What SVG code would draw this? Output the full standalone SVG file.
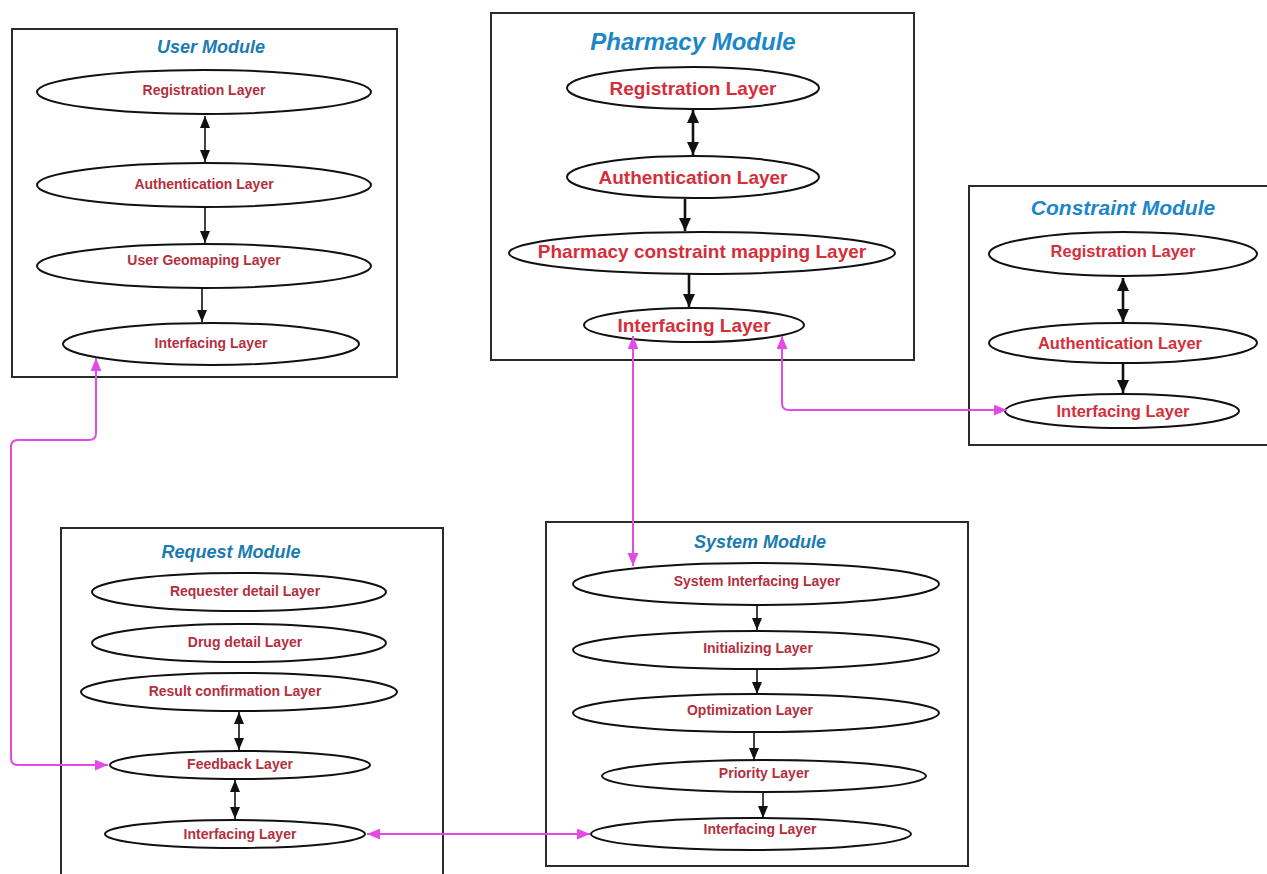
<svg xmlns="http://www.w3.org/2000/svg" width="1267" height="874" viewBox="0 0 1267 874">
<defs>
<style>
.box{fill:#fff;stroke:#2b2b2b;stroke-width:2}
.el{fill:#fff;stroke:#111;stroke-width:2}
.title{font-family:"Liberation Sans",Arial,sans-serif;font-weight:bold;font-style:italic;fill:#1b7bb0;text-anchor:middle}
.lbl{font-family:"Liberation Sans",Arial,sans-serif;font-weight:bold;fill:#b3303e;text-anchor:middle;font-size:14px}
.lblL{font-family:"Liberation Sans",Arial,sans-serif;font-weight:bold;fill:#d42f3b;text-anchor:middle}
.blk{stroke:#111;stroke-width:1.6;fill:none}
.blk2{stroke:#111;stroke-width:2.6;fill:none}
.mag{stroke:#e24be4;stroke-width:2;fill:none}
</style>
<marker id="ah" markerUnits="userSpaceOnUse" viewBox="0 0 12 10" refX="12" refY="5" markerWidth="12" markerHeight="10" orient="auto-start-reverse"><path d="M0,0 L12,5 L0,10 Z" fill="#111"/></marker>
<marker id="ah2" markerUnits="userSpaceOnUse" viewBox="0 0 13 12" refX="13" refY="6" markerWidth="13" markerHeight="12" orient="auto-start-reverse"><path d="M0,0 L13,6 L0,12 Z" fill="#111"/></marker>
<marker id="ahm" markerUnits="userSpaceOnUse" viewBox="0 0 12 10" refX="12" refY="5" markerWidth="13" markerHeight="11" orient="auto-start-reverse"><path d="M0,0 L12,5 L0,10 Z" fill="#e24be4"/></marker>
</defs>
<rect width="1267" height="874" fill="#fff"/>

<g id="user-module">
<rect class="box" x="12" y="29" width="385" height="348"/>
<text class="title" x="211" y="53" font-size="18">User Module</text>
<ellipse class="el" cx="204" cy="92" rx="167" ry="22"/>
<text class="lbl" x="204" y="95">Registration Layer</text>
<ellipse class="el" cx="204" cy="185" rx="167" ry="22"/>
<text class="lbl" x="204" y="189">Authentication Layer</text>
<ellipse class="el" cx="204" cy="266" rx="167" ry="22"/>
<text class="lbl" x="204" y="265">User Geomaping Layer</text>
<ellipse class="el" cx="211" cy="344" rx="148" ry="21"/>
<text class="lbl" x="211" y="348">Interfacing Layer</text>
</g>

<g id="pharmacy-module">
<rect class="box" x="491" y="13" width="423" height="347"/>
<text class="title" x="693" y="50" font-size="24" style="fill:#1d86c8">Pharmacy Module</text>
<ellipse class="el" cx="693" cy="88" rx="126" ry="21"/>
<text class="lblL" x="693" y="95" font-size="19">Registration Layer</text>
<ellipse class="el" cx="693" cy="177" rx="126" ry="21"/>
<text class="lblL" x="693" y="184" font-size="19">Authentication Layer</text>
<ellipse class="el" cx="702" cy="253" rx="193" ry="21"/>
<text class="lblL" x="702" y="258" font-size="19">Pharmacy constraint mapping Layer</text>
<ellipse class="el" cx="694" cy="325" rx="110" ry="17"/>
<text class="lblL" x="694" y="332" font-size="19">Interfacing Layer</text>
</g>

<g id="constraint-module">
<rect class="box" x="969" y="186" width="300" height="259"/>
<text class="title" x="1123" y="215" font-size="21" style="fill:#1d86c8">Constraint Module</text>
<ellipse class="el" cx="1123" cy="254" rx="134" ry="22"/>
<text class="lblL" x="1123" y="257" font-size="16.5">Registration Layer</text>
<ellipse class="el" cx="1123" cy="343" rx="134" ry="20"/>
<text class="lblL" x="1120" y="349" font-size="16.5">Authentication Layer</text>
<ellipse class="el" cx="1122" cy="411" rx="117" ry="17"/>
<text class="lblL" x="1123" y="417" font-size="16.5">Interfacing Layer</text>
</g>

<g id="request-module">
<rect class="box" x="61" y="528" width="382" height="360"/>
<text class="title" x="231" y="558" font-size="18">Request Module</text>
<ellipse class="el" cx="239" cy="592" rx="147" ry="19"/>
<text class="lbl" x="245" y="596">Requester detail Layer</text>
<ellipse class="el" cx="239" cy="643" rx="147" ry="19"/>
<text class="lbl" x="245" y="647">Drug detail Layer</text>
<ellipse class="el" cx="239" cy="692" rx="158" ry="19"/>
<text class="lbl" x="235" y="696">Result confirmation Layer</text>
<ellipse class="el" cx="240" cy="765" rx="130" ry="14"/>
<text class="lbl" x="240" y="769">Feedback Layer</text>
<ellipse class="el" cx="235" cy="834" rx="130" ry="14"/>
<text class="lbl" x="240" y="839">Interfacing Layer</text>
</g>

<g id="system-module">
<rect class="box" x="546" y="522" width="422" height="344"/>
<text class="title" x="760" y="548" font-size="18">System Module</text>
<ellipse class="el" cx="756" cy="584" rx="183" ry="21"/>
<text class="lbl" x="757" y="586">System Interfacing Layer</text>
<ellipse class="el" cx="756" cy="650" rx="183" ry="19"/>
<text class="lbl" x="758" y="653">Initializing Layer</text>
<ellipse class="el" cx="756" cy="713" rx="183" ry="19"/>
<text class="lbl" x="750" y="715">Optimization Layer</text>
<ellipse class="el" cx="764" cy="776" rx="162" ry="16"/>
<text class="lbl" x="764" y="778">Priority Layer</text>
<ellipse class="el" cx="751" cy="834" rx="160" ry="16"/>
<text class="lbl" x="760" y="834">Interfacing Layer</text>
</g>

<g id="connectors">
<line class="blk" x1="205" y1="116" x2="205" y2="162" marker-start="url(#ah)" marker-end="url(#ah)"/>
<line class="blk" x1="205" y1="208" x2="205" y2="243" marker-end="url(#ah)"/>
<line class="blk" x1="202" y1="289" x2="202" y2="322" marker-end="url(#ah)"/>

<line class="blk2" x1="693" y1="110" x2="693" y2="155" marker-start="url(#ah2)" marker-end="url(#ah2)"/>
<line class="blk2" x1="685" y1="199" x2="685" y2="231" marker-end="url(#ah2)"/>
<line class="blk2" x1="689" y1="274" x2="689" y2="307" marker-end="url(#ah2)"/>

<line class="blk2" x1="1123" y1="278" x2="1123" y2="322" marker-start="url(#ah2)" marker-end="url(#ah2)"/>
<line class="blk2" x1="1123" y1="364" x2="1123" y2="393" marker-end="url(#ah2)"/>

<line class="blk" x1="239" y1="712" x2="239" y2="750" marker-start="url(#ah)" marker-end="url(#ah)"/>
<line class="blk" x1="235" y1="780" x2="235" y2="819" marker-start="url(#ah)" marker-end="url(#ah)"/>

<line class="blk" x1="757" y1="606" x2="757" y2="630" marker-end="url(#ah)"/>
<line class="blk" x1="757" y1="670" x2="757" y2="694" marker-end="url(#ah)"/>
<line class="blk" x1="754" y1="733" x2="754" y2="760" marker-end="url(#ah)"/>
<line class="blk" x1="763" y1="793" x2="763" y2="818" marker-end="url(#ah)"/>

<path class="mag" d="M96,358 L96,433 Q96,440 89,440 L18,440 Q11,440 11,447 L11,758 Q11,765 18,765 L108,765" marker-start="url(#ahm)" marker-end="url(#ahm)"/>
<path class="mag" d="M782,336 L782,403 Q782,410 789,410 L1007,410" marker-start="url(#ahm)" marker-end="url(#ahm)"/>
<line class="mag" x1="633" y1="336" x2="633" y2="566" marker-start="url(#ahm)" marker-end="url(#ahm)"/>
<line class="mag" x1="367" y1="834" x2="590" y2="834" marker-start="url(#ahm)" marker-end="url(#ahm)"/>
</g>
</svg>
